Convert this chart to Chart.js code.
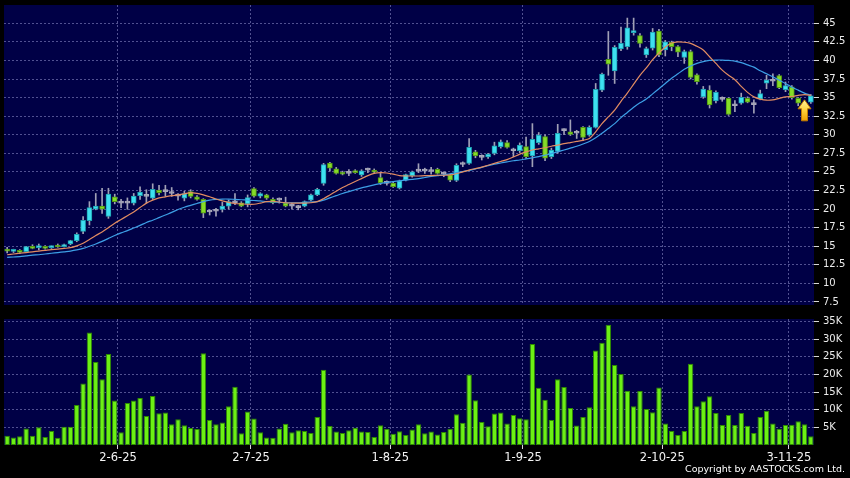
<!DOCTYPE html>
<html>
<head>
<meta charset="utf-8">
<script src="https://cdn.jsdelivr.net/npm/chart.js@4.4.1/dist/chart.umd.min.js"></script>
<style>
  html, body { margin: 0; padding: 0; background: #000; }
  #wrap { position: relative; width: 850px; height: 478px; background: #000; overflow: hidden; }
  #price-box { position: absolute; left: 0; top: 0; width: 850px; height: 310px; }
  #vol-box { position: absolute; left: 0; top: 310px; width: 850px; height: 168px; }
  #copy { position: absolute; right: 5px; top: 463px; font: 9.5px "DejaVu Sans", sans-serif; color: #fff; white-space: nowrap; }
</style>
</head>
<body>
<div id="wrap">
  <div id="price-box"><canvas id="price"></canvas></div>
  <div id="vol-box"><canvas id="vol"></canvas></div>
  <div id="copy">Copyright by AASTOCKS.com Ltd.</div>
</div>
<script>
/* Daily candles + 10/20-day MA, volume below. */

var OPEN = [
  14.6, 14.3, 14.45, 14.25, 15.0, 14.8, 15.0, 14.8, 15.15, 14.95,
  15.3, 15.75, 17.0, 18.45, 20.0, 20.4, 19.0, 21.65, 20.8, 20.8,
  20.8, 21.8, 21.7, 21.45, 22.55, 22.35, 22.1, 21.75, 21.45, 22.35,
  21.65, 21.3, 19.6, 19.7, 19.95, 20.4, 20.85, 20.85, 20.7, 22.75,
  21.75, 21.9, 21.3, 21.2, 20.85, 20.4, 20.2, 20.4, 21.2, 21.9,
  23.45, 26.2, 25.4, 24.95, 24.8, 25.15, 24.6, 25.25, 25.25, 24.25,
  23.45, 23.5, 22.8, 23.9, 24.45, 25.1, 25.1, 25.05, 25.35, 24.7,
  24.6, 23.85, 26.0, 26.15, 27.7, 26.95, 27.0, 27.5, 28.4, 28.95,
  27.85, 27.85, 28.4, 27.15, 28.95, 29.75, 27.05, 27.75, 30.55, 30.4,
  30.2, 31.0, 29.95, 31.0, 36.0, 40.15, 38.6, 41.55, 41.85, 43.75,
  43.35, 40.75, 41.65, 43.95, 41.4, 42.45, 41.85, 40.4, 41.2, 38.05,
  35.1, 36.0, 34.55, 34.75, 34.9, 33.9, 34.25, 34.9, 34.05, 34.8,
  36.95, 37.2, 37.95, 36.05, 36.45, 34.9, 33.6, 34.4
];
var HIGH = [
  14.85, 14.6, 14.55, 15.0, 15.2, 15.3, 15.1, 15.05, 15.3, 15.3,
  15.8, 16.8, 19.0, 21.0, 22.1, 22.8, 22.8, 22.0, 21.3, 21.5,
  22.1, 23.0, 22.6, 23.4, 23.2, 23.2, 22.9, 22.1, 22.4, 22.6,
  21.8, 21.4, 19.9, 20.1, 20.9, 21.2, 22.1, 21.0, 21.9, 22.9,
  22.2, 22.0, 21.5, 21.5, 21.6, 20.8, 20.5, 21.1, 22.0, 22.8,
  26.15, 26.3, 25.6, 25.1, 25.3, 25.3, 25.3, 25.5, 25.4, 24.8,
  23.8, 23.7, 23.9, 24.7, 25.1, 26.1, 25.5, 25.6, 25.5, 25.0,
  24.7, 26.1, 26.35, 29.5, 27.9, 27.3, 27.5, 29.0, 29.3, 29.2,
  28.2, 28.9, 29.7, 31.5, 30.3, 30.0, 28.2, 31.4, 30.8, 32.0,
  30.6, 31.1, 31.2, 36.9, 38.3, 43.9, 42.0, 44.5, 45.7, 45.7,
  43.6, 41.8, 44.3, 44.2, 42.7, 42.6, 42.0, 41.4, 41.4, 38.2,
  36.5, 36.6, 35.9, 35.1, 35.0, 34.6, 35.6, 35.1, 34.7, 36.0,
  38.0, 38.2, 38.1, 37.1, 36.6, 35.0, 33.8, 35.4
];
var LOW = [
  14.1, 14.15, 14.0, 14.2, 14.65, 14.5, 14.6, 14.7, 14.85, 14.9,
  15.2, 15.6, 16.7, 17.85, 19.9, 19.4, 18.75, 20.7, 20.2, 19.97,
  20.55, 21.3, 20.8, 21.3, 21.9, 21.7, 21.7, 21.2, 21.1, 21.5,
  21.2, 18.85, 19.2, 19.05, 19.6, 20.0, 20.6, 20.3, 20.3, 21.6,
  21.5, 21.3, 20.7, 20.8, 20.3, 20.0, 19.9, 20.3, 21.1, 21.8,
  23.2, 25.1, 24.7, 24.6, 24.5, 24.8, 24.4, 24.9, 24.85, 23.3,
  23.2, 22.9, 22.7, 23.8, 24.3, 24.9, 24.8, 24.7, 24.7, 24.35,
  23.7, 23.7, 25.7, 26.0, 26.9, 26.6, 26.8, 27.3, 28.2, 28.2,
  27.05, 27.6, 26.8, 25.7, 28.7, 26.5, 26.8, 27.5, 30.0, 29.9,
  29.5, 29.2, 29.8, 30.9, 35.8, 38.0, 36.9, 41.3, 41.5, 43.4,
  41.8, 40.4, 41.4, 40.5, 40.6, 41.3, 40.5, 39.6, 37.5, 36.8,
  34.9, 33.6, 34.3, 34.5, 32.6, 33.1, 34.1, 34.3, 32.9, 34.7,
  36.2, 36.6, 36.2, 35.8, 34.8, 33.9, 33.0, 34.2
];
var CLOSE = [
  14.35, 14.5, 14.15, 14.95, 14.7, 15.0, 14.7, 14.9, 14.9, 15.15,
  15.75, 16.6, 18.5, 20.2, 20.4, 20.0, 22.0, 21.0, 20.8, 20.85,
  21.75, 22.3, 21.7, 22.65, 22.2, 22.35, 22.1, 21.75, 22.1, 21.7,
  21.3, 19.45, 19.6, 19.7, 20.4, 21.0, 20.85, 20.4, 21.55, 21.75,
  22.1, 21.45, 20.85, 21.2, 20.4, 20.4, 20.2, 21.0, 21.9, 22.65,
  26.0, 25.5, 24.8, 24.7, 24.8, 24.9, 25.15, 25.25, 24.95, 23.55,
  23.45, 23.0, 23.8, 24.65, 25.0, 25.1, 25.1, 25.05, 24.8, 24.7,
  23.9, 25.9, 26.0, 28.3, 27.15, 26.95, 27.4, 28.5, 29.05, 28.3,
  27.85, 28.6, 27.05, 29.4, 29.95, 26.85, 27.95, 30.2, 30.55, 30.05,
  30.2, 29.65, 31.0, 36.1, 38.15, 39.5, 41.75, 42.3, 44.4, 43.95,
  42.3, 41.6, 43.8, 40.75, 42.5, 41.85, 41.1, 41.2, 37.7, 37.15,
  36.15, 34.0, 35.7, 34.75, 32.75, 33.9, 35.05, 34.4, 34.05, 35.55,
  37.35, 37.2, 36.35, 36.6, 35.0, 34.25, 33.2, 35.25
];
// volume in thousands of shares
var VOLUME_K = [
  2.6, 2.15, 2.5, 4.7, 2.6, 5.0, 2.3, 4.0, 2.05, 5.2,
  5.2, 11.3, 17.4, 31.9, 23.5, 18.6, 25.8, 12.6, 3.6, 11.9,
  12.6, 13.3, 8.2, 13.9, 9.0, 9.2, 5.9, 7.3, 5.6, 4.8,
  4.5, 26.0, 7.1, 5.9, 6.4, 11.0, 16.5, 3.3, 9.5, 7.5,
  3.6, 2.15, 2.05, 4.7, 6.0, 3.6, 4.2, 4.0, 3.4, 7.9,
  21.3, 5.4, 3.8, 3.4, 4.2, 4.9, 3.8, 3.7, 2.3, 5.6,
  4.6, 3.2, 3.9, 2.8, 4.4, 5.9, 3.3, 3.8, 3.0, 3.7,
  4.6, 8.7, 6.3, 20.0, 12.7, 6.5, 5.3, 8.9, 9.2, 6.1,
  8.5, 7.6, 7.3, 28.6, 16.2, 12.85, 7.1, 18.6, 16.4, 10.5,
  5.55, 7.9, 10.7, 26.8, 29.0, 34.1, 22.7, 20.1, 15.4, 11.0,
  15.3, 10.2, 9.25, 16.3, 6.1, 4.0, 2.8, 4.0, 23.0, 11.0,
  12.4, 13.8, 9.06, 5.65, 8.5, 5.65, 9.06, 5.46, 3.4, 7.9,
  9.7, 6.1, 4.6, 5.65, 5.75, 6.7, 5.9, 2.5
];
var MA10 = [
  13.85, 13.95, 14.05, 14.15, 14.25, 14.35, 14.45, 14.55, 14.6, 14.7,
  14.8, 15.05, 15.4, 15.9, 16.45, 16.9, 17.5, 18.1, 18.6, 19.1,
  19.6, 20.2, 20.8, 21.2, 21.5, 21.65, 21.8, 21.9, 22.05, 22.2,
  22.1, 21.9, 21.65, 21.35, 21.1, 20.9, 20.75, 20.7, 20.65, 20.65,
  20.8, 21.0, 21.05, 20.95, 20.85, 20.8, 20.8, 20.8, 20.85, 21.0,
  21.4, 21.9, 22.4, 22.9, 23.3, 23.7, 24.1, 24.5, 24.8, 24.9,
  24.85, 24.7, 24.5, 24.45, 24.45, 24.45, 24.5, 24.5, 24.55, 24.55,
  24.6, 24.75, 25.0, 25.25, 25.45, 25.65, 25.9, 26.15, 26.4, 26.65,
  27.0, 27.4, 27.7, 27.95, 28.1, 28.25, 28.45, 28.6, 28.8, 28.95,
  29.1, 29.25, 29.5, 30.4, 31.5, 32.4, 33.3, 34.5, 35.6, 36.8,
  38.0, 39.0, 40.1, 41.0, 41.8, 42.35, 42.5, 42.45, 42.3, 41.9,
  41.4, 40.5, 39.6, 38.7, 38.0, 37.4, 36.5, 35.7, 35.1, 34.8,
  34.65, 34.7, 34.9, 35.1, 35.15, 35.3, 35.4, 35.3
];
var MA20 = [
  13.5, 13.55, 13.6, 13.7, 13.8, 13.85, 13.95, 14.05, 14.15, 14.25,
  14.35, 14.5, 14.7, 15.0, 15.3, 15.65, 16.05, 16.45, 16.8, 17.1,
  17.45, 17.8, 18.2, 18.5, 18.85, 19.2, 19.55, 19.95, 20.25, 20.5,
  20.75, 21.0, 21.2, 21.3, 21.35, 21.35, 21.3, 21.25, 21.2, 21.15,
  21.1, 21.0, 20.95, 20.9, 20.85, 20.85, 20.85, 20.9, 20.95, 21.0,
  21.2, 21.5, 21.8, 22.1, 22.35, 22.6, 22.85, 23.05, 23.25, 23.45,
  23.6, 23.7, 23.8, 23.9, 24.0, 24.1, 24.25, 24.4, 24.5, 24.6,
  24.75, 24.9, 25.05, 25.2, 25.4, 25.6, 25.85, 26.05, 26.2, 26.35,
  26.5, 26.6, 26.75, 26.9, 27.05, 27.25, 27.45, 27.7, 27.95, 28.2,
  28.45, 28.75, 29.1, 29.6, 30.2, 30.85, 31.5, 32.3, 33.0, 33.7,
  34.3, 34.8, 35.5, 36.2, 36.9, 37.6, 38.2, 38.8, 39.25, 39.6,
  39.85, 40.0, 40.05, 40.05, 40.0, 39.9, 39.7, 39.4, 39.1, 38.6,
  38.2, 37.8, 37.35, 36.9, 36.4, 36.0, 35.6, 35.3
];
var PRICE_TICKS = [7.5, 10, 12.5, 15, 17.5, 20, 22.5, 25, 27.5, 30, 32.5, 35, 37.5, 40, 42.5, 45];
var VOLUME_TICKS = [5, 10, 15, 20, 25, 30, 35];
var DATE_INDEX = [18, 39, 61, 82, 104, 124];
var DATE_TEXT = ["2-6-25", "2-7-25", "1-8-25", "1-9-25", "2-10-25", "3-11-25"];
var ARROW_INDEX = 126, ARROW_TIP = 34.7;

(function () {
  "use strict";

  var NAVY = "#000046";
  var GRID = "rgba(135, 135, 195, 0.6)";
  var UP = "#3ee0f0", UP_EDGE = "#1d9fb0";
  var DOWN = "#86dc28", DOWN_EDGE = "#4f9412";
  var DOJI = "#a8a8ba";
  var WICK = "#a0a0b6";
  var MA10_C = "#e28c62", MA20_C = "#3d9fe6";
  var VOL = "#6cf014", VOL_EDGE = "#2e8a00";
  var AXIS_FONT = { family: "'DejaVu Sans', sans-serif", size: 10 };

  var n = CLOSE.length;
  var cats = [];
  for (var i = 0; i < n; i++) {
    var k = DATE_INDEX.indexOf(i);
    cats.push(k >= 0 ? DATE_TEXT[k] : "");
  }
  var wicks = LOW.map(function (l, j) { return [l, HIGH[j]]; });
  var bodies = OPEN.map(function (o, j) { return [o, CLOSE[j]]; });
  function bodyColor(j, edge) {
    if (Math.abs(CLOSE[j] - OPEN[j]) < 0.06) return DOJI;
    if (CLOSE[j] > OPEN[j]) return edge ? UP_EDGE : UP;
    return edge ? DOWN_EDGE : DOWN;
  }

  // vertical grid only at the month starts
  function monthGrid(ctx) { return DATE_INDEX.indexOf(ctx.index) >= 0 ? GRID : "rgba(0,0,0,0)"; }
  function monthTick(ctx) { return DATE_INDEX.indexOf(ctx.index) >= 0 ? "#d8d8d8" : "rgba(0,0,0,0)"; }

  var plotBg = {
    id: "plotBg",
    beforeDraw: function (chart) {
      var a = chart.chartArea, ctx = chart.ctx;
      ctx.save();
      ctx.fillStyle = NAVY;
      ctx.fillRect(a.left, a.top, a.right - a.left, a.bottom - a.top);
      ctx.restore();
    }
  };

  // yellow "latest" arrow under the last candles
  var arrow = {
    id: "arrow",
    afterDatasetsDraw: function (chart) {
      var ctx = chart.ctx;
      var x = chart.scales.x.getPixelForValue(ARROW_INDEX);
      var y = chart.scales.y.getPixelForValue(ARROW_TIP);
      var g = ctx.createLinearGradient(0, y, 0, y + 21);
      g.addColorStop(0, "#fff6a0");
      g.addColorStop(0.5, "#ffd23a");
      g.addColorStop(1, "#f0a000");
      ctx.save();
      ctx.beginPath();
      ctx.moveTo(x, y);
      ctx.lineTo(x + 6.5, y + 9);
      ctx.lineTo(x + 3, y + 9);
      ctx.lineTo(x + 3, y + 21);
      ctx.lineTo(x - 3, y + 21);
      ctx.lineTo(x - 3, y + 9);
      ctx.lineTo(x - 6.5, y + 9);
      ctx.closePath();
      ctx.fillStyle = g;
      ctx.fill();
      ctx.strokeStyle = "#c07a00";
      ctx.lineWidth = 1;
      ctx.stroke();
      ctx.restore();
    }
  };

  function yAxis(min, max, ticks, fmt) {
    return {
      position: "right", min: min, max: max,
      afterBuildTicks: function (ax) { ax.ticks = ticks.map(function (v) { return { value: v }; }); },
      // fixed width; no extra end padding (labels never sit on the edges)
      afterFit: function (ax) { ax.width = 36; ax.paddingTop = 0; ax.paddingBottom = 0; },
      grid: { color: GRID, borderDash: [2, 2], tickColor: "#d8d8d8", tickLength: 5, tickBorderDash: [] },
      border: { display: false, dash: [2, 2] },
      ticks: { color: "#ececec", font: AXIS_FONT, padding: 4, callback: fmt }
    };
  }

  var common = {
    responsive: true, maintainAspectRatio: false, animation: false,
    events: [],
    plugins: { legend: { display: false }, tooltip: { enabled: false } }
  };

  /* --- price panel --------------------------------------------------------- */
  new Chart(document.getElementById("price"), {
    type: "bar",
    data: {
      labels: cats,
      datasets: [
        { type: "line", data: MA10, borderColor: MA10_C, borderWidth: 1.2, pointRadius: 0, tension: 0.3, order: 0 },
        { type: "line", data: MA20, borderColor: MA20_C, borderWidth: 1.2, pointRadius: 0, tension: 0.3, order: 0 },
        {
          data: bodies, grouped: false, barThickness: 5, minBarLength: 2, order: 1,
          backgroundColor: function (c) { return bodyColor(c.dataIndex, false); },
          borderColor: function (c) { return bodyColor(c.dataIndex, true); },
          borderWidth: 1, borderSkipped: false
        },
        { data: wicks, grouped: false, barThickness: 1, backgroundColor: WICK, order: 2 }
      ]
    },
    options: Object.assign({}, common, {
      layout: { padding: { left: 4, right: 0, top: 5, bottom: 5 } },
      scales: {
        x: {
          afterFit: function (ax) { ax.height = 0; },
          grid: { offset: true, color: monthGrid, borderDash: [2, 2], drawTicks: false },
          border: { display: false, dash: [2, 2] },
          ticks: { display: false, autoSkip: false }
        },
        y: yAxis(7.09, 47.46, PRICE_TICKS, function (v) { return String(v); })
      }
    }),
    plugins: [plotBg, arrow]
  });

  /* --- volume panel -------------------------------------------------------- */
  new Chart(document.getElementById("vol"), {
    type: "bar",
    data: {
      labels: cats,
      datasets: [{
        data: VOLUME_K, backgroundColor: VOL, borderColor: VOL_EDGE, borderWidth: 1,
        borderSkipped: false, barPercentage: 0.86, categoryPercentage: 1
      }]
    },
    options: Object.assign({}, common, {
      layout: { padding: { left: 4, right: 0, top: 9, bottom: 0 } },
      scales: {
        x: {
          afterFit: function (ax) { ax.height = 33; },
          grid: { offset: true, color: monthGrid, borderDash: [2, 2], tickColor: monthTick, tickLength: 4, tickBorderDash: [] },
          border: { display: false, dash: [2, 2] },
          ticks: {
            autoSkip: false, maxRotation: 0, labelOffset: -3, padding: 2,
            color: "#f4f4f4", font: { family: "'DejaVu Sans', sans-serif", size: 11.5 }
          }
        },
        y: yAxis(0, 35.7, VOLUME_TICKS, function (v) { return v + "K"; })
      }
    }),
    plugins: [plotBg]
  });
})();
</script>
</body>
</html>
